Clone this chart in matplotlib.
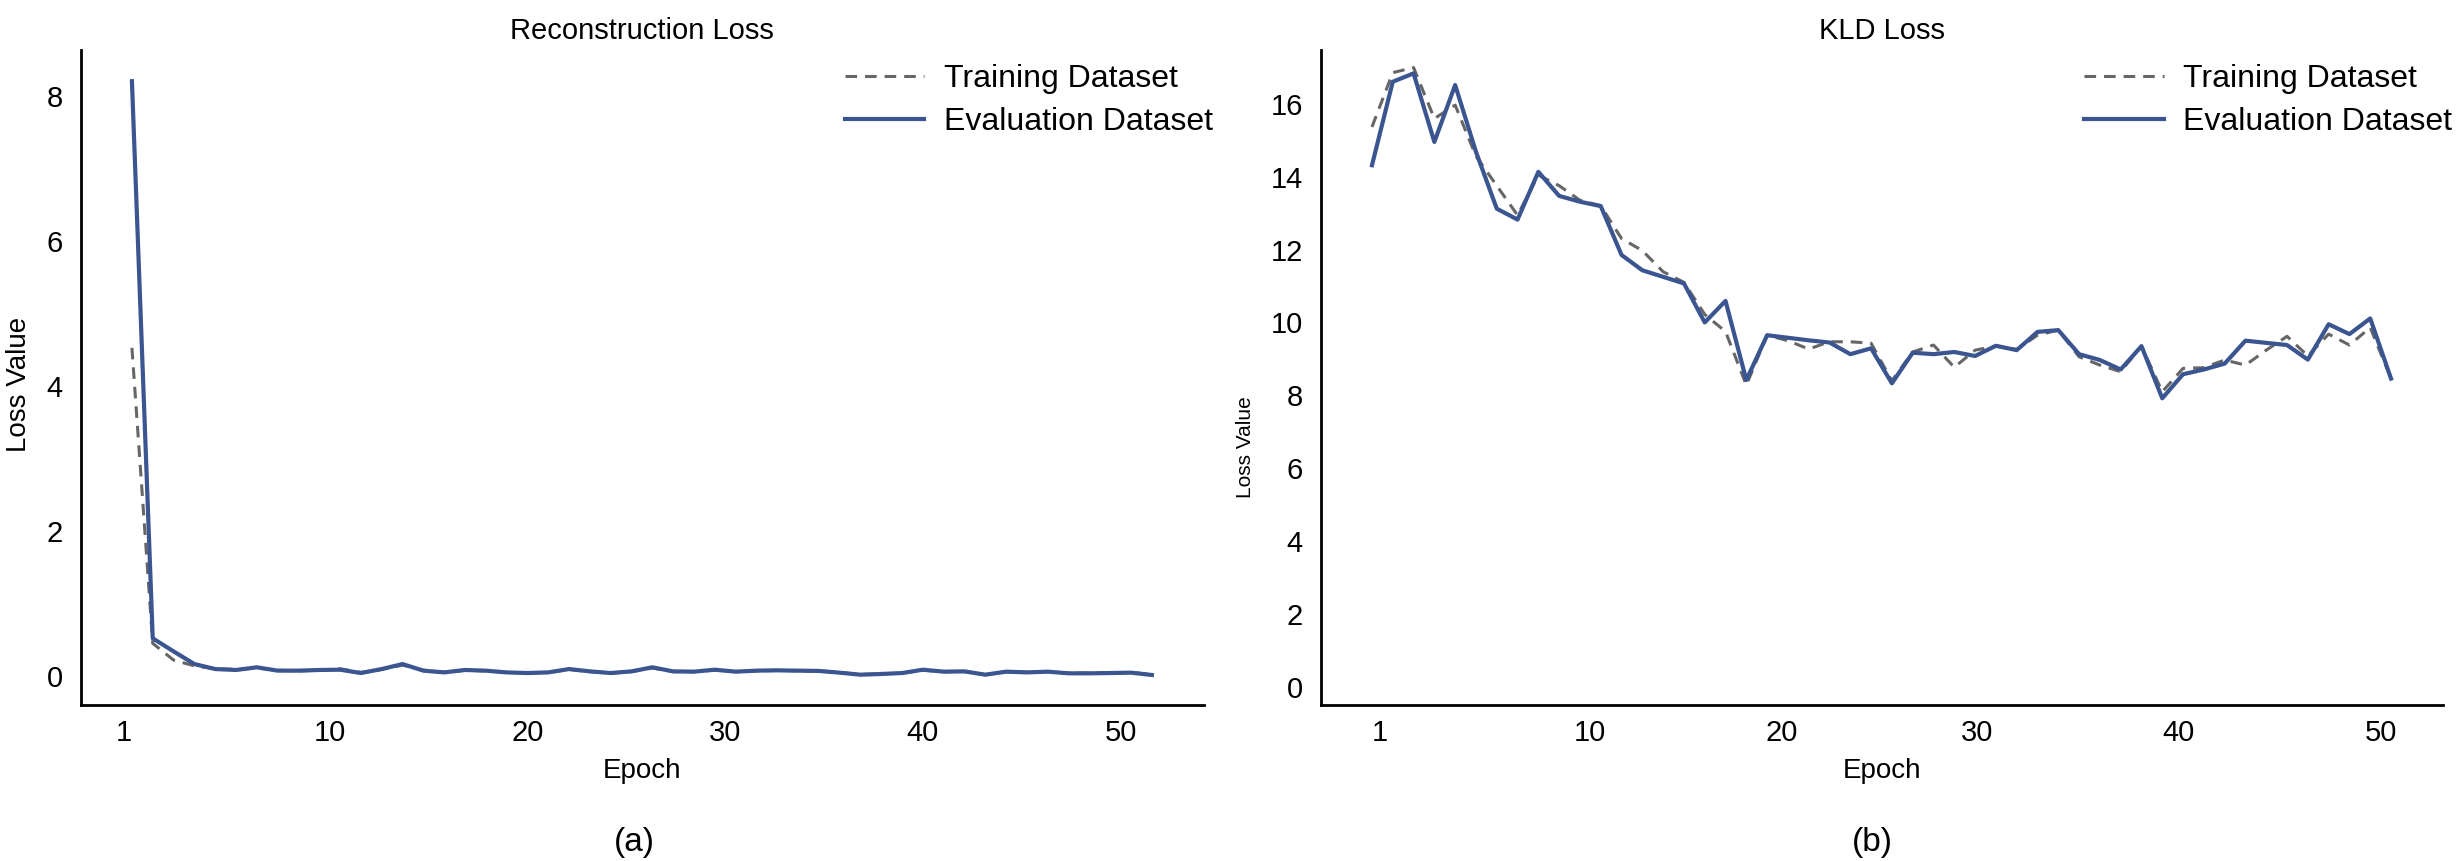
import matplotlib
matplotlib.use('Agg')
import matplotlib.pyplot as plt

plt.rcParams['font.family'] = ['Liberation Sans Narrow', 'Liberation Sans', 'DejaVu Sans']

# epochs 1..50
epochs = list(range(1, 51))
tick_labels = ['1', '10', '20', '30', '40', '50']

# reconstruction loss
rec_train = [4.53, 0.45, 0.22, 0.14, 0.10, 0.09, 0.11, 0.08, 0.07, 0.08,
             0.10, 0.05, 0.09, 0.15, 0.08, 0.05, 0.08, 0.07, 0.05, 0.04,
             0.05, 0.09, 0.06, 0.04, 0.06, 0.11, 0.06, 0.06, 0.08, 0.06,
             0.07, 0.08, 0.07, 0.07, 0.05, 0.02, 0.03, 0.04, 0.08, 0.06,
             0.06, 0.02, 0.06, 0.05, 0.06, 0.04, 0.04, 0.04, 0.05, 0.02]
rec_eval = [8.21, 0.52, 0.34, 0.165, 0.096, 0.083, 0.12, 0.074, 0.074, 0.083,
            0.087, 0.041, 0.096, 0.165, 0.074, 0.05, 0.083, 0.074, 0.05, 0.041,
            0.05, 0.096, 0.064, 0.041, 0.064, 0.12, 0.064, 0.06, 0.087, 0.06,
            0.074, 0.078, 0.074, 0.07, 0.046, 0.018, 0.028, 0.041, 0.087, 0.06,
            0.064, 0.018, 0.06, 0.05, 0.06, 0.037, 0.037, 0.041, 0.046, 0.014]

# KLD loss
kld_train = [15.36, 16.85, 16.99, 15.59, 15.96, 14.56, 13.75, 12.94, 14.04, 13.75,
             13.35, 13.20, 12.30, 11.97, 11.39, 11.10, 10.22, 9.75, 8.28, 9.65,
             9.50, 9.27, 9.47, 9.47, 9.43, 8.40, 9.19, 9.38, 8.77, 9.24,
             9.35, 9.26, 9.65, 9.79, 9.06, 8.83, 8.65, 9.35, 8.10, 8.74,
             8.76, 8.97, 8.83, 9.24, 9.62, 9.08, 9.68, 9.38, 9.86, 8.46]
kld_eval = [14.31, 16.60, 16.83, 14.95, 16.51, 14.68, 13.12, 12.82, 14.13, 13.47,
            13.31, 13.19, 11.85, 11.43, 11.25, 11.07, 10.00, 10.59, 8.42, 9.65,
            9.58, 9.51, 9.45, 9.13, 9.29, 8.33, 9.17, 9.13, 9.19, 9.08,
            9.36, 9.24, 9.74, 9.79, 9.13, 8.97, 8.71, 9.35, 7.92, 8.58,
            8.71, 8.87, 9.50, 9.44, 9.38, 8.98, 9.95, 9.68, 10.11, 8.46]

BLUE = '#3b5591'
GRAY = '#666666'

fig = plt.figure(figsize=(12.3, 4.305), dpi=200)
ax1 = fig.add_axes([0.0329, 0.1812, 0.4565, 0.7607])
ax2 = fig.add_axes([0.5370, 0.1812, 0.4561, 0.7607])


def style(ax, title, ylab_size, ylab_xy, yticks, ylim, xticks, sub):
    ax.plot(epochs, sub[0], color=GRAY, lw=1.1, dashes=(3.8, 2.6),
            label='Training Dataset')
    ax.plot(epochs, sub[1], color=BLUE, lw=1.5, label='Evaluation Dataset')
    ax.set_xlim(-1.45, 52.5)
    ax.set_ylim(*ylim)
    ax.set_xticks(xticks)
    ax.set_xticklabels(tick_labels)
    ax.set_yticks(yticks)
    ax.tick_params(length=0, labelsize=10.5)
    ax.tick_params(axis='x', pad=5)
    ax.tick_params(axis='y', pad=6.5)
    for s in ['top', 'right']:
        ax.spines[s].set_visible(False)
    for s in ['left', 'bottom']:
        ax.spines[s].set_linewidth(1.0)
        ax.spines[s].set_color('black')
    ax.set_title(title, fontsize=10.5, pad=4)
    ax.set_xlabel('Epoch', fontsize=10, labelpad=4)
    ax.set_ylabel('Loss Value', fontsize=ylab_size)
    ax.yaxis.set_label_coords(*ylab_xy)
    ax.legend(loc='upper left', bbox_to_anchor=(0.68, 0.978), frameon=False,
              fontsize=11.5, handlelength=2.5, handletextpad=0.6,
              labelspacing=0.4, borderpad=0, borderaxespad=0)


style(ax1, 'Reconstruction Loss', 10, (-0.044, 0.489), [0, 2, 4, 6, 8], (-0.40, 8.64),
      [0.6, 10.5, 20.0, 29.5, 39.0, 48.5], (rec_train, rec_eval))
style(ax2, 'KLD Loss', 7.5, (-0.059, 0.394), list(range(0, 17, 2)), (-0.49, 17.47),
      [1.4, 11.5, 20.7, 30.1, 39.8, 49.5], (kld_train, kld_eval))

fig.text(0.258, 0.022, '(a)', ha='center', va='center', fontsize=12)
fig.text(0.761, 0.022, '(b)', ha='center', va='center', fontsize=12)

fig.savefig('out.png', dpi=200)
